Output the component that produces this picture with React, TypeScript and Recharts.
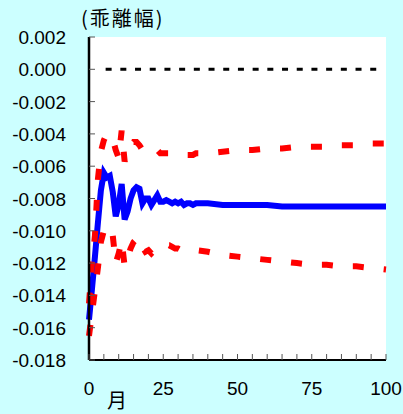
import React from 'react'
import { LineChart, Line, XAxis, YAxis, CartesianGrid, ReferenceLine } from 'recharts'

const MONTHS = [
  0, 1, 2, 3, 4, 5, 6, 7, 8, 9, 10, 11, 12, 13, 14, 15, 16, 17, 18, 19, 20,
  21, 22, 23, 24, 25, 26, 27, 28, 29, 30, 31, 32, 33, 34, 35, 36,
  40, 45, 50, 55, 60, 65, 70, 75, 80, 85, 90, 95, 100,
]

const RESPONSE = [
  -0.0155, -0.0136, -0.0116, -0.0095, -0.0075, -0.0064, -0.0067, -0.0066, -0.0076, -0.0091, -0.0084,
  -0.0071, -0.0093, -0.0088, -0.008, -0.0075, -0.0073, -0.0074, -0.0083, -0.008, -0.008,
  -0.0084, -0.0081, -0.0078, -0.0082, -0.0082, -0.0081, -0.0082, -0.0083, -0.0082, -0.0083,
  -0.0082, -0.0084, -0.0083, -0.0083, -0.0084, -0.0083,
  -0.0083, -0.0084, -0.0084, -0.0084, -0.0084, -0.0085, -0.0085, -0.0085, -0.0085, -0.0085, -0.0085, -0.0085, -0.0085,
]

const UPPER = [
  -0.0145, -0.012, -0.0103, -0.0068, -0.0051, -0.0044, -0.004, -0.0041, -0.0043, -0.005, -0.0055,
  -0.0038, -0.0057, -0.0051, -0.0047, -0.0045, -0.0045, -0.0047, -0.005, -0.0049, -0.005,
  -0.0051, -0.005, -0.005, -0.0052, -0.0052, -0.0052, -0.0052, -0.0053, -0.0053, -0.0053,
  -0.0053, -0.0053, -0.0053, -0.0053, -0.0053, -0.0052,
  -0.0052, -0.0051, -0.005, -0.005, -0.0049, -0.0049, -0.0048, -0.0048, -0.0048, -0.0047, -0.0047, -0.0046, -0.0046,
]

const LOWER = [
  -0.0165, -0.0151, -0.0137, -0.0123, -0.0107, -0.01, -0.0097, -0.0098, -0.0103, -0.012, -0.0114,
  -0.0106, -0.0122, -0.0117, -0.0111, -0.0107, -0.0105, -0.0104, -0.011, -0.0113, -0.0112,
  -0.0114, -0.0112, -0.011, -0.011, -0.011, -0.0109, -0.0109, -0.011, -0.0111, -0.0111,
  -0.0112, -0.0112, -0.0112, -0.0112, -0.0112, -0.0112,
  -0.0113, -0.0115, -0.0116, -0.0117, -0.0118, -0.0119, -0.012, -0.0121, -0.0121, -0.0122, -0.0122, -0.0123, -0.0124,
]

const X_TICKS = [0, 5, 10, 15, 20, 25, 30, 35, 40, 45, 50, 55, 60, 65, 70, 75, 80, 85, 90, 95, 100]
const X_LABELS = [0, 25, 50, 75, 100]
const Y_TICKS = [0.002, 0, -0.002, -0.004, -0.006, -0.008, -0.01, -0.012, -0.014, -0.016, -0.018]

const ZERO_FROM = 5.6
const ZERO_TO = 98

const data = MONTHS.map((m, i) => ({
  month: m,
  response: RESPONSE[i],
  upper: UPPER[i],
  lower: LOWER[i],
}))

const W = 403
const H = 414
const PLOT_LEFT = 89
const PLOT_BOTTOM = 360
const NUM_FONT = '"Liberation Sans", Arial, sans-serif'
const JP_FONT = '"Noto Sans CJK JP", sans-serif'

const XTick = ({ x, payload }: any) => (
  <g>
    <line x1={x} x2={x} y1={PLOT_BOTTOM} y2={PLOT_BOTTOM - 6} stroke="#555" strokeWidth={1} />
    {X_LABELS.includes(payload.value) && (
      <text x={x} y={395} textAnchor="middle" fontSize={19} fontFamily={NUM_FONT} fill="#000">
        {payload.value}
      </text>
    )}
  </g>
)

const YTick = ({ y, payload }: any) => (
  <g>
    <line x1={PLOT_LEFT} x2={PLOT_LEFT + 6} y1={y} y2={y} stroke="#555" strokeWidth={1} />
    <text x={66} y={y + 7} textAnchor="end" fontSize={19} fontFamily={NUM_FONT} fill="#000">
      {payload.value.toFixed(3)}
    </text>
  </g>
)

export default function App() {
  return (
    <div style={{ position: 'absolute', left: 0, top: 0, width: W, height: H, background: '#ccffff', overflow: 'hidden' }}>
      <LineChart width={W} height={H} data={data} margin={{ top: 37, right: 17, bottom: 0, left: 0 }}>
        <CartesianGrid horizontal={false} vertical={false} fill="#ffffff" />
        <XAxis
          dataKey="month"
          type="number"
          domain={[0, 100]}
          ticks={X_TICKS}
          interval={0}
          tick={<XTick />}
          tickLine={false}
          axisLine={{ stroke: '#000', strokeWidth: 2 }}
          height={54}
        />
        <XAxis xAxisId="top" orientation="top" type="number" domain={[0, 100]} height={0} tick={false} tickLine={false} axisLine={{ stroke: '#555', strokeWidth: 1 }} />
        <YAxis
          type="number"
          domain={[-0.018, 0.002]}
          ticks={Y_TICKS}
          interval={0}
          tick={<YTick />}
          tickLine={false}
          axisLine={{ stroke: '#000', strokeWidth: 2.5 }}
          width={89}
        />
        <YAxis yAxisId="right" orientation="right" type="number" domain={[-0.018, 0.002]} width={0} tick={false} tickLine={false} axisLine={{ stroke: '#333', strokeWidth: 2 }} />
        <ReferenceLine
          segment={[{ x: ZERO_FROM, y: 0 }, { x: ZERO_TO, y: 0 }]}
          stroke="#000"
          strokeWidth={3}
          strokeDasharray="6 8.7"
        />
        <Line type="linear" dataKey="response" stroke="#0000ff" strokeWidth={6} dot={false} activeDot={false} isAnimationActive={false} />
        <Line type="linear" dataKey="upper" stroke="#ff0000" strokeWidth={6} strokeDasharray="11 20" dot={false} activeDot={false} isAnimationActive={false} />
        <Line type="linear" dataKey="lower" stroke="#ff0000" strokeWidth={6} strokeDasharray="11 20" dot={false} activeDot={false} isAnimationActive={false} />
      </LineChart>
      <div style={{ position: 'absolute', left: 81, top: 8, fontSize: 20, lineHeight: '20px', letterSpacing: 2, fontFamily: JP_FONT, color: '#000', whiteSpace: 'nowrap' }}>
        (乖離幅)
      </div>
      <div style={{ position: 'absolute', left: 107, top: 390, fontSize: 20, lineHeight: '20px', fontFamily: JP_FONT, color: '#000' }}>
        月
      </div>
    </div>
  )
}
